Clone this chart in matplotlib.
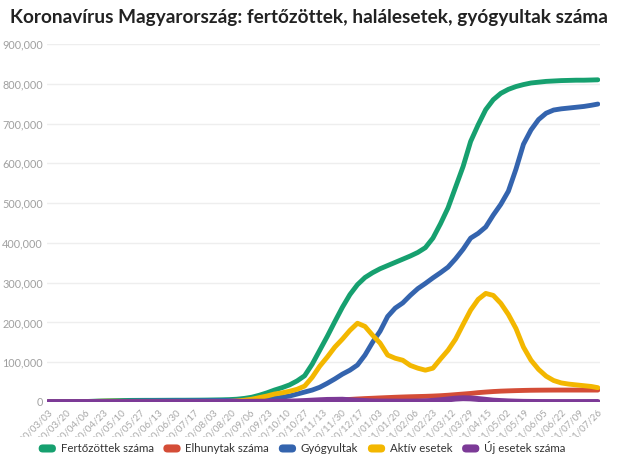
import numpy as np
import pandas as pd
import matplotlib
matplotlib.use("Agg")
import matplotlib.pyplot as plt
from matplotlib.patches import Patch, FancyBboxPatch
from matplotlib.legend_handler import HandlerPatch
from matplotlib.transforms import Bbox, TransformedBbox
from matplotlib.ticker import FuncFormatter

plt.rcParams['font.family'] = ['Lato', 'DejaVu Sans']

# weekly samples from 2020/03/03, last point 2021/07/26 (values in thousands)
dates = list(pd.date_range("2020-03-03", periods=73, freq="7D")) + [pd.Timestamp("2021-07-26")]

fertozottek = [0, 0, 0.1, 0.3, 0.7, 1.2, 1.9, 2.6, 3.1, 3.5, 3.8, 4.0, 4.1, 4.2, 4.2, 4.3, 4.4, 4.5, 4.5, 4.6,
               4.7, 4.9, 5.2, 5.5, 6.0, 7.0, 9.0, 12, 17, 23, 30, 36, 43, 53, 66, 95, 130, 165, 202, 238,
               270, 295, 313, 325, 335, 343, 351, 359, 367, 376, 388, 412, 448, 488, 540, 592, 655, 697, 735, 760,
               776, 786, 793, 798, 802, 804, 806, 807, 808, 808.5, 809, 809, 809.5, 810]
elhunytak = [0, 0, 0, 0, 0.01, 0.03, 0.08, 0.15, 0.23, 0.3, 0.37, 0.42, 0.46, 0.5, 0.53, 0.55, 0.56, 0.57, 0.58, 0.59,
             0.6, 0.6, 0.61, 0.61, 0.61, 0.61, 0.62, 0.63, 0.65, 0.7, 0.8, 0.9, 1.1, 1.4, 1.8, 2.3, 2.9, 3.6, 4.3, 5.3,
             6.5, 7.6, 8.6, 9.4, 10.3, 11.1, 11.9, 12.6, 13.2, 13.7, 14.2, 14.9, 15.8, 17.0, 18.5, 20.0, 21.5, 23.5, 25.0, 26.3,
             27.3, 28.0, 28.6, 29.1, 29.5, 29.7, 29.85, 29.95, 30, 30, 30, 30, 30, 30]
gyogyultak = [0, 0, 0, 0, 0.1, 0.2, 0.4, 0.6, 0.9, 1.3, 1.7, 2.1, 2.5, 2.8, 3.0, 3.1, 3.2, 3.3, 3.4, 3.4,
              3.5, 3.5, 3.6, 3.7, 3.8, 4.0, 4.3, 4.8, 5.5, 7, 9, 12, 15, 20, 25, 30, 37, 47, 58, 70,
              80, 93, 118, 150, 178, 215, 236, 249, 268, 285, 298, 312, 325, 339, 360, 384, 412, 424, 440, 470,
              497, 530, 585, 648, 684, 710, 726, 734, 737, 739, 741, 743, 746, 749]
aktiv = [0, 0, 0.1, 0.3, 0.6, 1.0, 1.4, 1.8, 2.0, 1.9, 1.6, 1.4, 1.2, 1.0, 0.8, 0.7, 0.7, 0.6, 0.6, 0.6,
         0.6, 0.8, 1.0, 1.2, 1.6, 2.5, 4.5, 7, 11, 15, 20, 23, 27, 32, 40, 62, 90, 113, 138, 158,
         180, 198, 190, 168, 148, 118, 110, 105, 92, 85, 80, 85, 108, 130, 158, 195, 231, 258, 273, 268,
         248, 220, 185, 138, 105, 82, 65, 54, 48, 45, 43, 41, 39, 36]
uj_esetek = [0, 0.01, 0.03, 0.06, 0.1, 0.1, 0.1, 0.08, 0.06, 0.05, 0.04, 0.03, 0.02, 0.01, 0.01, 0.01, 0.01, 0.01, 0.01, 0.01,
             0.02, 0.03, 0.05, 0.1, 0.2, 0.3, 0.5, 0.7, 0.8, 0.9, 0.9, 1.0, 1.2, 1.7, 2.5, 3.5, 4.5, 5.3, 5.5, 5.8,
             4.5, 3.5, 2.5, 1.6, 1.3, 1.2, 1.1, 1.0, 1.1, 1.3, 1.8, 3.0, 4.5, 6.5, 8.5, 9.5, 9.0, 7.5, 5.5, 3.5,
             2.5, 1.6, 1.0, 0.5, 0.3, 0.15, 0.1, 0.06, 0.05, 0.04, 0.05, 0.06, 0.08, 0.1]

names = ["Fertőzöttek száma", "Elhunytak száma", "Gyógyultak", "Aktív esetek", "Új esetek száma"]
colors = ["#16a06f", "#d44d37", "#3464ae", "#f3b700", "#7c3a97"]
series = [fertozottek, elhunytak, gyogyultak, aktiv, uj_esetek]
widths = [3.5, 3.5, 3.5, 3.5, 4.2]

fig = plt.figure(figsize=(6.2, 4.68), dpi=100)
ax = fig.add_axes([47/620, 1-402/468, 553/620, 358/468])

for vals, c, lw in zip(series, colors, widths):
    ax.plot(dates, np.array(vals)*1000, color=c, lw=lw, solid_capstyle='round', solid_joinstyle='round')

start = pd.Timestamp("2020-03-03")
ax.set_xlim(start - pd.Timedelta(days=1), start + pd.Timedelta(days=512))
ax.set_ylim(0, 900000)
ax.set_yticks(np.arange(0, 900001, 100000))
ax.yaxis.set_major_formatter(FuncFormatter(lambda v, p: f"{int(v):,}"))
ticks = pd.date_range("2020-03-03", "2021-07-26", freq="17D")
ax.set_xticks(ticks)
ax.set_xticklabels([t.strftime("%Y/%m/%d") for t in ticks], rotation=45, ha='right',
                   rotation_mode='anchor', fontsize=7, color="#a8a8a8")
ax.tick_params(axis='y', labelsize=7.8, labelcolor="#a0a0a0", length=0, pad=3)
ax.tick_params(axis='x', length=0, pad=4)
ax.grid(axis='y', color="#eeeeee", lw=1)
ax.set_axisbelow(True)
for s in ax.spines.values():
    s.set_visible(False)

# the date labels are cut off above the legend, like in the original
clip = TransformedBbox(Bbox([[0, 1-437/468], [1, 1]]), fig.transFigure)
for lab in ax.get_xticklabels():
    lab.set_clip_box(clip)
    lab.set_clip_on(True)

title = fig.text(10/620, 1-18/468, "Koronavírus Magyarország: fertőzöttek, halálesetek, gyógyultak száma",
                 fontsize=14, fontweight='bold', color="#222222", va='center', ha='left')
# squeeze title to reference width
fig.canvas.draw()
w = title.get_window_extent().width
title.set_fontsize(14*602/w)


def rounded(legend, orig_handle, xdescent, ydescent, width, height, fontsize):
    return FancyBboxPatch((-xdescent, -ydescent), width, height, boxstyle="round,pad=0,rounding_size=3")


handles = [Patch(facecolor=c, edgecolor='none') for c in colors]
fig.legend(handles, names, loc='center', bbox_to_anchor=(302/620, 1-448/468), ncol=5, frameon=False,
           fontsize=8.3, handlelength=1.5, handleheight=0.7, handletextpad=0.4, columnspacing=0.85,
           labelcolor="#333333", borderpad=0,
           handler_map={Patch: HandlerPatch(patch_func=rounded)})

fig.savefig("out.png", dpi=100)
